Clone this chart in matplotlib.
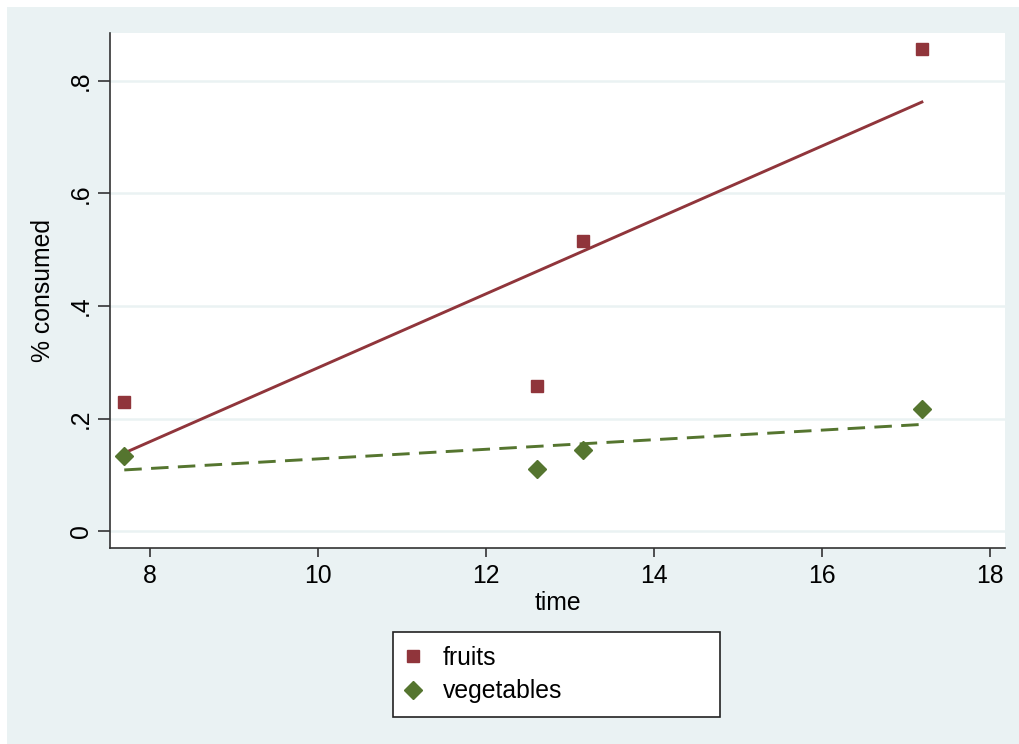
import numpy as np
import matplotlib
matplotlib.use("Agg")
import matplotlib.pyplot as plt
from matplotlib.patches import Rectangle

time = [7.69, 12.61, 13.15, 17.19]
fruits = [0.229, 0.258, 0.516, 0.857]
vegetables = [0.133, 0.110, 0.144, 0.217]
xticks = [8, 10, 12, 14, 16, 18]
yticks = [0, 0.2, 0.4, 0.6, 0.8]
ylabels = ["0", ".2", ".4", ".6", ".8"]

bg = "#EAF2F3"
red = "#90353B"
green = "#55752F"
fs = 17.8

plt.rcParams["font.family"] = ["Liberation Sans", "DejaVu Sans"]

W, H = 1019, 744
fig = plt.figure(figsize=(W / 100, H / 100), dpi=100)
fig.patch.set_facecolor("white")
fig.patches.append(Rectangle((7 / W, 0), 1 - 7 / W, 1 - 7 / H, transform=fig.transFigure,
                             facecolor=bg, edgecolor="none", zorder=-10))

ax = fig.add_axes([110 / W, 1 - 548 / H, (1005 - 110) / W, (548 - 33) / H])
ax.set_facecolor("white")

xs = np.array(time)
# linear fits drawn over the range of the data
for ys, col, ls in [(fruits, red, "-"), (vegetables, green, (0, (6, 3.2)))]:
    b, a = np.polyfit(xs, ys, 1)
    xx = np.array([xs.min(), xs.max()])
    ax.plot(xx, a + b * xx, color=col, lw=2.1, ls=ls, zorder=3)

ax.plot(time, fruits, "s", color=red, ms=9.3, ls="none", label="fruits", zorder=4)
ax.plot(time, vegetables, "D", color=green, ms=8.8, ls="none", label="vegetables", zorder=4)

ax.set_xlim(7.52, 18.18)
ax.set_ylim(-0.030, 0.885)
ax.set_xticks(xticks)
ax.set_yticks(yticks)
ax.set_yticklabels(ylabels, rotation=90, va="center")
ax.tick_params(labelsize=fs, width=1.2, color="#333333")
ax.tick_params(axis="y", length=8.5, pad=4)
ax.tick_params(axis="x", length=6.5, pad=5)
ax.grid(axis="y", color=bg, lw=1.8)
ax.set_axisbelow(True)
for s in ["top", "right"]:
    ax.spines[s].set_visible(False)
for s in ["left", "bottom"]:
    ax.spines[s].set_color("#333333")
    ax.spines[s].set_linewidth(1.2)

ax.set_xlabel("time", fontsize=fs, labelpad=2)
ax.set_ylabel("% consumed", fontsize=fs, labelpad=10)

leg = fig.legend(loc="upper left", bbox_to_anchor=(393 / W, 1 - 714 / H, 327 / W, 82 / H),
                 mode="expand", borderaxespad=0, frameon=True, framealpha=1,
                 fontsize=fs, handletextpad=0.92, borderpad=0.55, labelspacing=0.4,
                 handlelength=0.55, fancybox=False)
leg.get_frame().set_edgecolor("#222222")
leg.get_frame().set_linewidth(1.2)

fig.savefig("out.png", dpi=100, facecolor=fig.get_facecolor())
